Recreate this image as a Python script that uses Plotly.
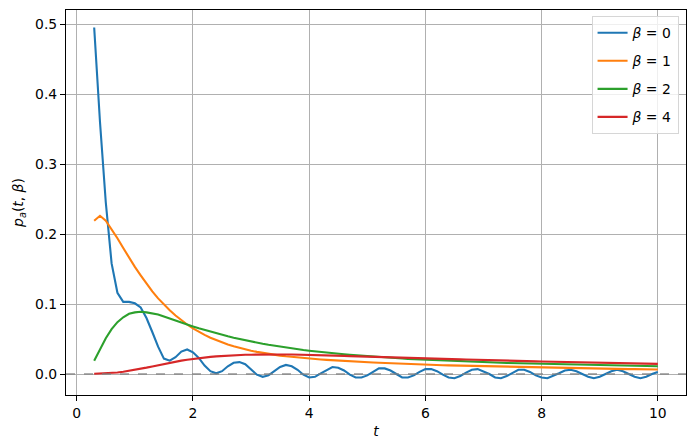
import numpy as np
import plotly.graph_objects as go

# time grid: 0.3 .. 10.0 in steps of 0.1
T = np.round(0.3 + 0.1 * np.arange(98), 1)

P_BETA0 = [
    0.495, 0.360, 0.245, 0.158, 0.116, 0.103, 0.103, 0.101, 0.095, 0.080,
    0.060, 0.039, 0.022, 0.019, 0.024, 0.032, 0.035, 0.031, 0.023, 0.012,
    0.004, 0.001, 0.004, 0.011, 0.016, 0.017, 0.014, 0.007, -0.001, -0.004,
    -0.002, 0.004, 0.010, 0.013, 0.011, 0.006, -0.001, -0.005, -0.004, 0.001,
    0.006, 0.010, 0.009, 0.005, -0.001, -0.005, -0.005, -0.002, 0.003, 0.008,
    0.008, 0.005, 0.000, -0.005, -0.005, -0.002, 0.003, 0.007, 0.007, 0.004,
    -0.001, -0.005, -0.006, -0.003, 0.002, 0.006, 0.007, 0.004, 0.000, -0.005,
    -0.006, -0.003, 0.002, 0.006, 0.006, 0.003, -0.002, -0.005, -0.006, -0.003,
    0.001, 0.005, 0.006, 0.004, 0.000, -0.004, -0.006, -0.004, 0.000, 0.004,
    0.006, 0.004, 0.000, -0.004, -0.006, -0.004, 0.000, 0.003,
]

P_BETA1 = [
    0.219, 0.226, 0.219, 0.207, 0.194, 0.180, 0.166, 0.153, 0.141, 0.129,
    0.118, 0.108, 0.0990, 0.0910, 0.0835, 0.0768, 0.0707, 0.0652, 0.0603, 0.0559,
    0.0519, 0.0483, 0.0451, 0.0422, 0.0396, 0.0373, 0.0352, 0.0333, 0.0316, 0.0301,
    0.0287, 0.0274, 0.0263, 0.0253, 0.0244, 0.0236, 0.0228, 0.0221, 0.0214, 0.0208,
    0.0202, 0.0196, 0.0191, 0.0186, 0.0181, 0.0176, 0.0172, 0.0168, 0.0164, 0.0160,
    0.0156, 0.0153, 0.0150, 0.0146, 0.0143, 0.0140, 0.0137, 0.0134, 0.0131, 0.0128,
    0.0126, 0.0123, 0.0121, 0.0118, 0.0116, 0.0114, 0.0112, 0.0110, 0.0108, 0.0106,
    0.0104, 0.0102, 0.0100, 0.0098, 0.0096, 0.0094, 0.0093, 0.0091, 0.0089, 0.0088,
    0.0086, 0.0085, 0.0083, 0.0082, 0.0080, 0.0079, 0.0078, 0.0076, 0.0075, 0.0074,
    0.0073, 0.0071, 0.0070, 0.0069, 0.0068, 0.0067, 0.0066, 0.0065,
]

P_BETA2 = [
    0.019, 0.036, 0.051, 0.064, 0.074, 0.081, 0.086, 0.088, 0.089, 0.088,
    0.087, 0.085, 0.082, 0.079, 0.076, 0.073, 0.0705, 0.0680, 0.0653, 0.0628,
    0.0604, 0.0581, 0.0559, 0.0538, 0.0518, 0.0499, 0.0481, 0.0464, 0.0448, 0.0432,
    0.0417, 0.0403, 0.0390, 0.0377, 0.0365, 0.0354, 0.0343, 0.0333, 0.0323, 0.0314,
    0.0305, 0.0297, 0.0289, 0.0281, 0.0274, 0.0267, 0.0260, 0.0254, 0.0248, 0.0242,
    0.0236, 0.0231, 0.0226, 0.0221, 0.0216, 0.0212, 0.0207, 0.0203, 0.0199, 0.0195,
    0.0191, 0.0188, 0.0184, 0.0181, 0.0178, 0.0175, 0.0172, 0.0169, 0.0166, 0.0163,
    0.0161, 0.0158, 0.0156, 0.0153, 0.0151, 0.0149, 0.0147, 0.0145, 0.0143, 0.0141,
    0.0139, 0.0137, 0.0135, 0.0133, 0.0131, 0.0129, 0.0128, 0.0126, 0.0124, 0.0123,
    0.0121, 0.0120, 0.0118, 0.0117, 0.0115, 0.0114, 0.0113, 0.0111,
]

P_BETA4 = [
    0.0003, 0.0005, 0.0009, 0.0014, 0.0021, 0.0031, 0.0044, 0.0058, 0.0074, 0.0091,
    0.0108, 0.0126, 0.0143, 0.0160, 0.0176, 0.0191, 0.0204, 0.0216, 0.0227, 0.0237,
    0.0245, 0.0252, 0.0258, 0.0263, 0.0267, 0.0271, 0.0274, 0.0276, 0.0278, 0.0279,
    0.0280, 0.0280, 0.0280, 0.0279, 0.0278, 0.0277, 0.0275, 0.0273, 0.0271, 0.0269,
    0.0266, 0.0264, 0.0261, 0.0259, 0.0256, 0.0253, 0.0251, 0.0248, 0.0246, 0.0243,
    0.0241, 0.0238, 0.0236, 0.0233, 0.0231, 0.0228, 0.0226, 0.0222, 0.0220, 0.0218,
    0.0215, 0.0213, 0.0211, 0.0209, 0.0207, 0.0204, 0.0202, 0.0200, 0.0198, 0.0196,
    0.0193, 0.0191, 0.0189, 0.0187, 0.0185, 0.0183, 0.0181, 0.0179, 0.0177, 0.0175,
    0.0174, 0.0172, 0.0170, 0.0168, 0.0166, 0.0165, 0.0163, 0.0161, 0.0159, 0.0158,
    0.0156, 0.0155, 0.0153, 0.0151, 0.0150, 0.0148, 0.0147, 0.0145,
]

SERIES = [
    ("<i>β</i> = 0", P_BETA0, "#1f77b4"),
    ("<i>β</i> = 1", P_BETA1, "#ff7f0e"),
    ("<i>β</i> = 2", P_BETA2, "#2ca02c"),
    ("<i>β</i> = 4", P_BETA4, "#d62728"),
]

FONT = "DejaVu Sans, Liberation Sans, sans-serif"

fig = go.Figure()
for i, (name, vals, color) in enumerate(SERIES):
    assert len(vals) == len(T), (name, len(vals))
    fig.add_trace(
        go.Scatter(
            x=T,
            y=vals,
            mode="lines",
            name=name,
            legendgroup=str(i),
            line=dict(color=color, width=2.1),
        )
    )

# dashed reference line at zero
fig.add_shape(
    type="line",
    xref="paper",
    x0=0,
    x1=1,
    yref="y",
    y0=0,
    y1=0,
    line=dict(color="rgba(128,128,128,0.85)", width=1.4, dash="dash"),
    layer="above",
)

axis_common = dict(
    showline=True,
    linecolor="black",
    linewidth=1.1,
    mirror=True,
    ticks="outside",
    ticklen=5,
    tickwidth=1.1,
    tickcolor="black",
    showgrid=True,
    gridcolor="#b0b0b0",
    gridwidth=1,
    zeroline=False,
    tickfont=dict(size=13.9, color="black"),
)

fig.update_xaxes(
    range=[-0.185, 10.485],
    tickvals=[0, 2, 4, 6, 8, 10],
    title=dict(text="<i>t</i>", font=dict(size=13.9), standoff=6),
    **axis_common,
)
fig.update_yaxes(
    range=[-0.03, 0.52],
    tickvals=[0.0, 0.1, 0.2, 0.3, 0.4, 0.5],
    tickformat=".1f",
    title=dict(
        text="<i>p</i><sub><i>a</i></sub>(<i>t</i>, <i>β</i>)",
        font=dict(size=13.9),
        standoff=8,
    ),
    **axis_common,
)

fig.update_layout(
    width=695,
    height=448,
    template="none",
    paper_bgcolor="white",
    plot_bgcolor="white",
    font=dict(family=FONT, size=13.9, color="black"),
    margin=dict(l=66, r=9, t=10, b=53),
    showlegend=True,
    legend=dict(
        x=0.988,
        y=0.984,
        xanchor="right",
        yanchor="top",
        bgcolor="rgba(255,255,255,0.8)",
        bordercolor="#d6d6d6",
        borderwidth=1,
        font=dict(size=13.9),
        tracegroupgap=7,
        itemwidth=30,
    ),
)

# drop the browser's default body margin so the figure sits at the page origin
fig.write_html(
    "out.html",
    config={"displayModeBar": False},
    post_script="document.body.style.margin = '0';",
)
